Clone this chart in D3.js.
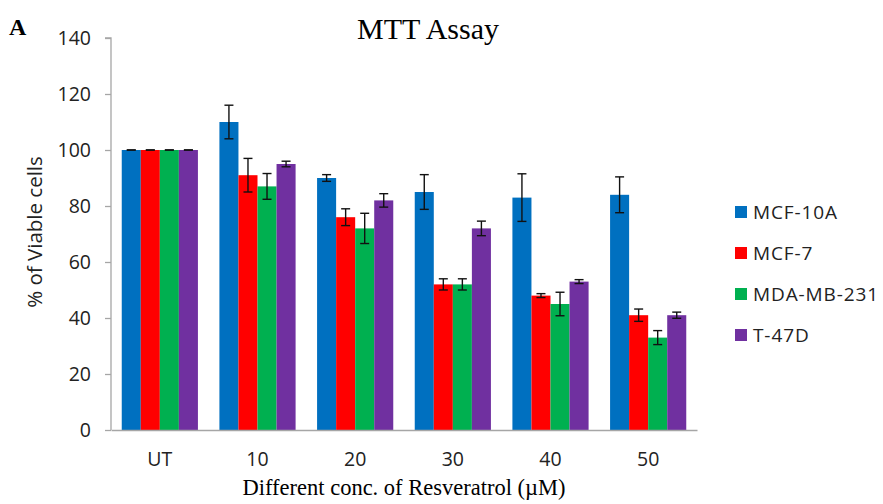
<!DOCTYPE html>
<html><head><meta charset="utf-8">
<script src="https://cdn.jsdelivr.net/npm/d3@7"></script>
<style>body{margin:0;background:#fff}svg{display:block}</style>
</head><body>
<svg id="c" width="883" height="504"></svg>
<script>
const categories = ["UT","10","20","30","40","50"];
const seriesNames = ["MCF-10A","MCF-7","MDA-MB-231","T-47D"];
const colors = ["#0070C0","#FF0000","#00B050","#7030A0"];
const values = [
  [100,110,90,85,83,84],
  [100,91,76,52,48,41],
  [100,87,72,52,45,33],
  [100,95,82,72,53,41]
];
const errors = [
  [0,6,1.2,6.2,8.5,6.4],
  [0,6,3,2,0.7,2.2],
  [0,4.6,5.4,2,4.2,2.5],
  [0,1,2.4,2.6,0.7,1.1]
];
const yTicks = [0,20,40,60,80,100,120,140];

const svg = d3.select("#c");
const m = {l:111, r:697, t:38, b:430};
const x = d3.scaleBand().domain(categories).range([m.l, m.r]).paddingInner(0.22).paddingOuter(0.11);
const xs = d3.scaleBand().domain(seriesNames).range([0, x.bandwidth()]);
const y = d3.scaleLinear().domain([0,140]).range([m.b, m.t]);
const sans = "'Open Sans',sans-serif", serif = "'Liberation Serif',serif";

// y axis
const ya = svg.append("g").attr("transform",`translate(${m.l},0)`)
  .call(d3.axisLeft(y).tickValues(yTicks).tickSize(6).tickPadding(14));
ya.selectAll("path,line").attr("stroke","#a6a6a6").attr("stroke-width",1.3);
ya.selectAll("text").attr("font-family",sans).attr("font-size",19.5).attr("fill","#222");
ya.select(".domain").attr("d",`M-6,${m.t}H0V${m.b}`);

// bars
seriesNames.forEach((s,i)=>{
  const g = svg.append("g");
  g.selectAll("rect").data(categories).join("rect")
    .attr("x",c=>x(c)+xs(s)).attr("width",xs.bandwidth())
    .attr("y",(c,j)=>y(values[i][j])).attr("height",(c,j)=>y(0)-y(values[i][j]))
    .attr("fill",colors[i]);
});
// error bars
seriesNames.forEach((s,i)=>{
  const g = svg.append("g").attr("stroke","#111").attr("stroke-width",1.4);
  categories.forEach((c,j)=>{
    const cx = x(c)+xs(s)+xs.bandwidth()/2;
    const v = values[i][j], e = errors[i][j];
    const hi = y(v+e), lo = y(v-e), w=4.5;
    g.append("line").attr("x1",cx).attr("x2",cx).attr("y1",hi).attr("y2",lo);
    g.append("line").attr("x1",cx-w).attr("x2",cx+w).attr("y1",hi).attr("y2",hi);
    g.append("line").attr("x1",cx-w).attr("x2",cx+w).attr("y1",lo).attr("y2",lo);
  });
});

// x axis
const xa = svg.append("g").attr("transform",`translate(0,${m.b})`)
  .call(d3.axisBottom(x).tickSize(0).tickPadding(22));
xa.select(".domain").attr("stroke","#a6a6a6").attr("stroke-width",1.5);
xa.selectAll("text").attr("font-family",sans).attr("font-size",19.5).attr("fill","#222");

// titles
svg.append("text").attr("x",428).attr("y",39).attr("text-anchor","middle")
  .attr("font-family",serif).attr("font-size",30).text("MTT Assay");
svg.append("text").attr("x",9).attr("y",35)
  .attr("font-family",serif).attr("font-weight","bold").attr("font-size",24).text("A");
svg.append("text").attr("x",(m.l+m.r)/2).attr("y",495).attr("text-anchor","middle")
  .attr("font-family",serif).attr("font-size",22.5).text("Different conc. of Resveratrol (\u00b5M)");
svg.append("text").attr("transform",`translate(42,232) rotate(-90)`).attr("text-anchor","middle")
  .attr("font-family",sans).attr("font-size",20.5).attr("fill","#222").text("% of Viable cells");

// legend
const lg = svg.append("g");
seriesNames.forEach((s,i)=>{
  const cy = 212 + i*41;
  lg.append("rect").attr("x",735).attr("y",cy-6).attr("width",12).attr("height",12).attr("fill",colors[i]);
  lg.append("text").attr("x",753).attr("y",cy+7).attr("font-family",sans)
    .attr("font-size",19).attr("letter-spacing",0.9).attr("fill","#222").text(s);
});
</script>
</body></html>
